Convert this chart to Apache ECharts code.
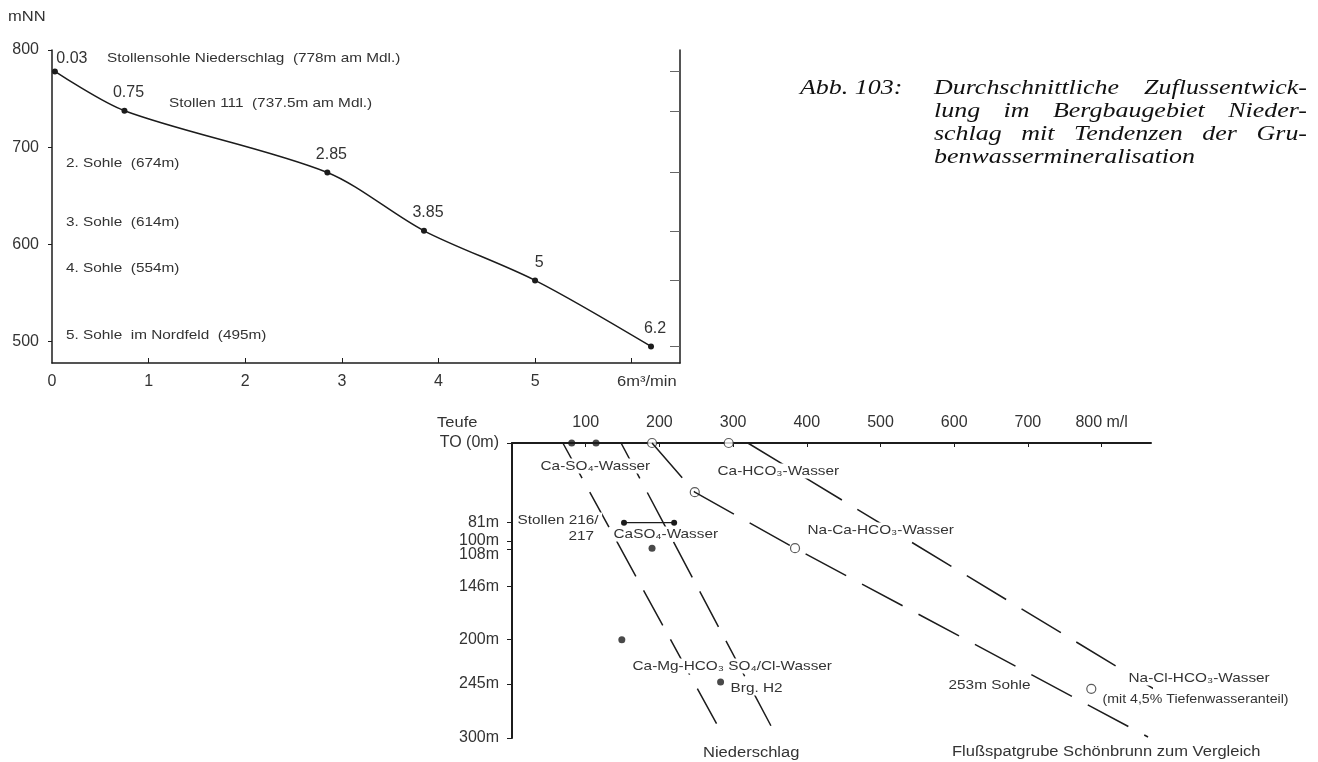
<!DOCTYPE html>
<html>
<head>
<meta charset="utf-8">
<script src="https://cdn.jsdelivr.net/npm/echarts@6/dist/echarts.min.js"></script>
<style>
html,body{margin:0;padding:0;background:#fff;}
#c{width:1318px;height:762px;}
</style>
</head>
<body>
<div id="c"></div>
<script>
// ---------- Data: upper chart (inflow vs. level) ----------
const flowX = [0.03, 0.75, 2.85, 3.85, 5, 6.2];          // m³/min
const levelNN = [778, 737.5, 674, 614, 563, 495];        // mNN
const flowLabels = ['0.03', '0.75', '2.85', '3.85', '5', '6.2'];
const flowTicks = [0, 1, 2, 3, 4, 5];
const nnTicks = [500, 600, 700, 800];
const levelNames = [
  'Stollensohle Niederschlag  (778m am Mdl.)',
  'Stollen 111  (737.5m am Mdl.)',
  '2. Sohle  (674m)',
  '3. Sohle  (614m)',
  '4. Sohle  (554m)',
  '5. Sohle  im Nordfeld  (495m)'
];

// ---------- Data: lower chart (mineralisation vs. depth) ----------
const concTicks = [100, 200, 300, 400, 500, 600, 700, 800];  // m/l
const depthTicks = [0, 81, 100, 108, 146, 200, 245, 300];     // m
const nsFilled = [[81, 0], [114, 0], [190, 107], [149, 200], [283, 243]];
const stollenRange = [[152, 81], [220, 81]];
const sbOpen = [[190, 0], [294, 0], [248, 50], [384, 107], [786, 250]];
const trendNS1 = [[69, 0], [286, 297]];
const trendNS2 = [[148, 0], [358, 297]];
const trendSB1 = [[190, 0], [248, 50], [384, 107], [863, 299]];
const trendSB2 = [[320, 0], [985, 302]];

const titleLines = [
  ['Abb. 103:', 'Durchschnittliche Zuflussentwick-'],
  ['', 'lung im Bergbaugebiet Nieder-'],
  ['', 'schlag mit Tendenzen der Gru-'],
  ['', 'benwassermineralisation']
];

const INK = '#1c1c1c';
const TXT = '#333';
const SX = 1.18;
const FONTFAM = '"Liberation Sans", Arial, sans-serif';

function txt(x, y, s, size, bg) {
  return {
    type: 'text', x: x, y: y, scaleX: SX, silent: true, z: 100,
    style: { text: s, font: size + 'px ' + FONTFAM, fill: TXT,
      verticalAlign: 'middle', align: 'left',
      backgroundColor: bg ? '#fff' : 'transparent', padding: bg ? [1, 3, 1, 3] : 0 }
  };
}

// title with justification
const TFONT = 'italic 22px "Liberation Serif", "Times New Roman", serif';
const mctx = document.createElement('canvas').getContext('2d');
mctx.font = TFONT;
function tw(s) { return mctx.measureText(s).width * SX; }
const titleEls = [];
const tLeft = 800, tIndent = 934, tRight = 1307, tTop = 88, tLH = 23;
titleLines.forEach(function (ln, i) {
  const y = tTop + i * tLH;
  if (ln[0]) {
    titleEls.push({ type: 'text', x: tLeft, y: y, scaleX: SX, silent: true,
      style: { text: ln[0], font: TFONT, fill: '#111', verticalAlign: 'middle' } });
  }
  const words = ln[1].split(' ');
  const justify = i < titleLines.length - 1 && words.length > 1;
  let gap = tw(' ');
  if (justify) {
    const total = words.reduce(function (a, w) { return a + tw(w); }, 0);
    gap = (tRight - tIndent - total) / (words.length - 1);
  }
  let x = tIndent;
  words.forEach(function (w) {
    titleEls.push({ type: 'text', x: x, y: y, scaleX: SX, silent: true,
      style: { text: w, font: TFONT, fill: '#111', verticalAlign: 'middle' } });
    x += tw(w) + gap;
  });
});

const chart = echarts.init(document.getElementById('c'), null, { renderer: 'canvas' });

const axisLbl = { color: TXT, fontSize: 16, fontFamily: FONTFAM };

const option = {
  backgroundColor: '#ffffff',
  animation: false,
  grid: [
    { left: 52, top: 50, width: 628, height: 313 },
    { left: 512, top: 443, width: 639, height: 295 }
  ],
  xAxis: [
    {
      gridIndex: 0, type: 'value', min: 0, max: 6.5,
      axisLine: { lineStyle: { color: INK, width: 1.5 } },
      axisTick: { inside: true, length: 5, lineStyle: { color: INK }, customValues: [1, 2, 3, 4, 5, 6] },
      axisLabel: Object.assign({ margin: 11, customValues: flowTicks }, axisLbl),
      splitLine: { show: false }
    },
    {
      gridIndex: 1, type: 'value', position: 'top', min: 0, max: 867,
      axisLine: { lineStyle: { color: INK, width: 2 } },
      axisTick: { inside: true, length: 4, lineStyle: { color: INK }, customValues: concTicks },
      axisLabel: Object.assign({ margin: 12, customValues: concTicks,
        formatter: function (v) { return v === 800 ? '800 m/l' : String(v); } }, axisLbl),
      splitLine: { show: false }
    }
  ],
  yAxis: [
    {
      gridIndex: 0, type: 'value', min: 478, max: 800,
      axisLine: { lineStyle: { color: INK, width: 1.5 } },
      axisTick: { length: 4, lineStyle: { color: INK }, customValues: nnTicks },
      axisLabel: Object.assign({ margin: 13, padding: [0, 0, 8, 0], customValues: nnTicks }, axisLbl),
      splitLine: { show: false }
    },
    {
      gridIndex: 0, type: 'value', position: 'right', min: 478, max: 800,
      axisLine: { show: true, lineStyle: { color: INK, width: 1.5 } },
      axisTick: { inside: true, length: 10, lineStyle: { color: '#666' }, customValues: levelNN },
      axisLabel: { show: false },
      splitLine: { show: false }
    },
    {
      gridIndex: 1, type: 'value', inverse: true, min: 0, max: 300,
      axisLine: { lineStyle: { color: INK, width: 2 } },
      axisTick: { length: 5, lineStyle: { color: INK }, customValues: depthTicks },
      axisLabel: {
        margin: 13, customValues: depthTicks, color: TXT, fontSize: 16, fontFamily: FONTFAM,
        formatter: function (v) {
          if (v === 0) return 'TO (0m)';
          if (v === 100) return '{up|100m}';
          if (v === 108) return '{dn|108m}';
          return v + 'm';
        },
        rich: {
          up: { fontSize: 16, fontFamily: FONTFAM, color: TXT, padding: [0, 0, 2, 0] },
          dn: { fontSize: 16, fontFamily: FONTFAM, color: TXT, padding: [11, 0, 0, 0] }
        }
      },
      splitLine: { show: false }
    }
  ],
  series: [
    {
      type: 'line', xAxisIndex: 0, yAxisIndex: 0, smooth: 0.3,
      data: flowX.map(function (x, i) {
        return { value: [x, levelNN[i]], label: i === 0 ? { offset: [17, 5] } : {} };
      }),
      symbol: 'circle', symbolSize: 6,
      itemStyle: { color: INK },
      lineStyle: { color: INK, width: 1.5 },
      label: {
        show: true, position: 'top', distance: 7, offset: [4, 0],
        color: TXT, fontSize: 16, fontFamily: FONTFAM,
        formatter: function (p) { return flowLabels[p.dataIndex]; }
      }
    },
    // trend lines (lower chart)
    { type: 'line', xAxisIndex: 1, yAxisIndex: 2, data: trendNS1, symbol: 'none', clip: false,
      lineStyle: { color: INK, width: 1.5, type: [40, 16] } },
    { type: 'line', xAxisIndex: 1, yAxisIndex: 2, data: trendNS2, symbol: 'none', clip: false,
      lineStyle: { color: INK, width: 1.5, type: [40, 16] } },
    { type: 'line', xAxisIndex: 1, yAxisIndex: 2, data: trendSB1, symbol: 'none', clip: false,
      lineStyle: { color: INK, width: 1.5, type: [46, 18] } },
    { type: 'line', xAxisIndex: 1, yAxisIndex: 2, data: trendSB2, symbol: 'none', clip: false,
      lineStyle: { color: INK, width: 1.5, type: [46, 18] } },
    { type: 'line', xAxisIndex: 1, yAxisIndex: 2, data: stollenRange, symbol: 'circle', symbolSize: 6,
      itemStyle: { color: INK }, lineStyle: { color: INK, width: 1.2 } },
    { type: 'scatter', xAxisIndex: 1, yAxisIndex: 2, data: nsFilled, symbol: 'circle', symbolSize: 7,
      itemStyle: { color: INK } },
    { type: 'scatter', xAxisIndex: 1, yAxisIndex: 2, data: sbOpen, symbol: 'circle', symbolSize: 9,
      itemStyle: { color: '#fff', borderColor: '#333', borderWidth: 1.2 } }
  ],
  graphic: [
    txt(8, 17, 'mNN', 14),
    txt(107, 58, levelNames[0], 13),
    txt(169, 103, levelNames[1], 13),
    txt(66, 163, levelNames[2], 13),
    txt(66, 222, levelNames[3], 13),
    txt(66, 268, levelNames[4], 13),
    txt(66, 335, levelNames[5], 13),
    txt(617, 382, '6m³/min', 14),
    txt(437, 423, 'Teufe', 14),
    txt(537, 466, 'Ca-SO₄-Wasser', 13, true),
    txt(714, 471, 'Ca-HCO₃-Wasser', 13, true),
    txt(514, 520, 'Stollen 216/', 13, true),
    txt(565, 536, '217', 13, true),
    txt(610, 534, 'CaSO₄-Wasser', 13, true),
    txt(804, 530, 'Na-Ca-HCO₃-Wasser', 13, true),
    txt(629, 666, 'Ca-Mg-HCO₃ SO₄/Cl-Wasser', 13, true),
    txt(727, 688, 'Brg. H2', 13, true),
    txt(703, 753, 'Niederschlag', 14),
    txt(945, 685, '253m Sohle', 13, true),
    txt(1125, 678, 'Na-Cl-HCO₃-Wasser', 13, true),
    txt(1099, 700, '(mit 4,5% Tiefenwasseranteil)', 12, true),
    txt(952, 752, 'Flußspatgrube Schönbrunn zum Vergleich', 14)
  ].concat(titleEls)
};

chart.setOption(option);
</script>
</body>
</html>
